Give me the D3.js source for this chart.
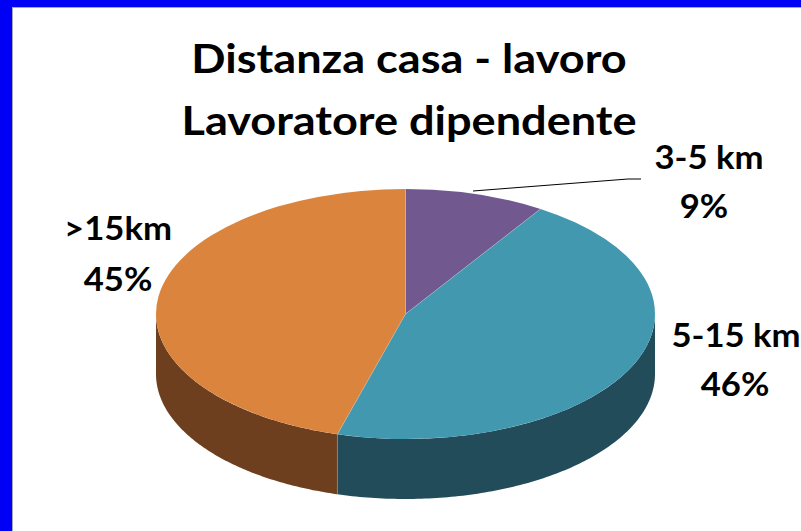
<!DOCTYPE html>
<html><head><meta charset="utf-8">
<script src="https://cdn.jsdelivr.net/npm/d3@7"></script>
<style>
html,body{margin:0;padding:0;background:#fff;overflow:hidden}
svg{display:block}
text{font-family:Lato,"Open Sans",sans-serif;font-weight:700;fill:#000}
</style></head><body>
<svg id="c" width="801" height="531"></svg>
<script>
const titleLines = ["Distanza casa - lavoro", "Lavoratore dipendente"];
const categories = ["3-5 km", "5-15 km", ">15km"];
const percentLabels = ["9%", "46%", "45%"];
const values = [9.1, 45.3, 45.6];
const topColors = ["#71588F", "#4198AF", "#DB843D"];
const sideColors = ["#4A3A5E", "#234C5A", "#6D3F1E"];

const W = 801, H = 531;
const cx = 405.5, cy = 314, rx = 249.5, ry = 125, depth = 60;
const svg = d3.select("#c");

// frame
svg.append("rect").attr("width", W).attr("height", H).attr("fill", "#0000F5");
svg.append("rect").attr("x", 12).attr("y", 7).attr("width", W).attr("height", H).attr("fill", "#A8A8B8");
svg.append("rect").attr("x", 13).attr("y", 8).attr("width", W).attr("height", H).attr("fill", "#fff");

const pie = d3.pie().sort(null).value(d => d).startAngle(0).endAngle(2 * Math.PI);
const arcs = pie(values);
const ex = a => cx + rx * Math.sin(a);
const ey = a => cy - ry * Math.cos(a);

// side wall: visible only in the front half of the ellipse
const front = [Math.PI / 2, 3 * Math.PI / 2];
const edge = d3.line().x(d => d[0]).y(d => d[1]);
arcs.forEach((d, i) => {
  const a0 = Math.max(d.startAngle, front[0]), a1 = Math.min(d.endAngle, front[1]);
  if (a1 <= a0) return;
  const t = d3.scaleLinear().domain([0, 120]).range([a0, a1]);
  const angs = d3.range(121).map(t);
  const pts = angs.map(a => [ex(a), ey(a)])
    .concat(angs.slice().reverse().map(a => [ex(a), ey(a) + depth]));
  svg.append("path").attr("d", edge(pts) + "Z").attr("fill", sideColors[i]);
});
// seam between side walls
const seam = arcs[1].endAngle;
svg.append("line").attr("x1", ex(seam)).attr("x2", ex(seam))
  .attr("y1", ey(seam)).attr("y2", ey(seam) + depth)
  .attr("stroke", "#9A8A7A").attr("stroke-width", 0.6);

// top face
const arc = d3.arc().innerRadius(0).outerRadius(rx);
const face = svg.append("g").attr("transform", `translate(${cx},${cy}) scale(1,${ry / rx})`);
face.selectAll("path").data(arcs).join("path")
  .attr("d", arc).attr("fill", (d, i) => topColors[i]);
// thin light separators between the slices
arcs.forEach(d => {
  svg.append("line").attr("x1", cx).attr("y1", cy)
    .attr("x2", ex(d.startAngle)).attr("y2", ey(d.startAngle))
    .attr("stroke", "#C8D0D8").attr("stroke-width", 0.5).attr("stroke-opacity", 0.7);
});

// leader line
svg.append("path").attr("d", edge([[473, 191], [628, 179], [641, 179]]))
  .attr("fill", "none").attr("stroke", "#000").attr("stroke-width", 1);

// text, widened slightly to follow the stretched original
const stretch = 1.1;
const put = (x, y, size, s) => svg.append("text")
  .attr("transform", `translate(${x},${y}) scale(${stretch},1)`)
  .attr("text-anchor", "middle").attr("font-size", size).text(s);

[[409, 73], [409, 135]].forEach((p, i) => put(p[0], p[1], 41, titleLines[i]));

const labelPos = [[[709, 169], [704, 218]], [[736, 347], [735, 396]], [[118, 240], [118, 291]]];
categories.forEach((c, i) => {
  put(labelPos[i][0][0], labelPos[i][0][1], 31.5, c);
  put(labelPos[i][1][0], labelPos[i][1][1], 31.5, percentLabels[i]);
});
</script>
</body></html>
